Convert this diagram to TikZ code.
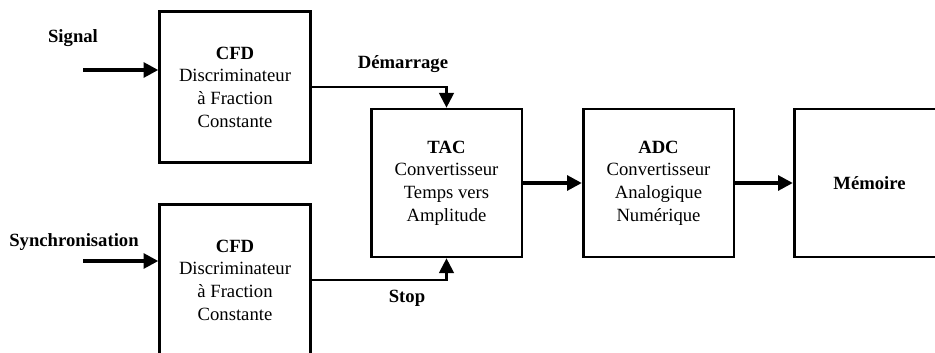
\documentclass[tikz,border=0pt]{standalone}
\usepackage{fontspec}
\setmainfont{Liberation Serif}
\usetikzlibrary{arrows.meta}

\begin{document}
\begin{tikzpicture}[x=0.75pt,y=-0.75pt,>={Triangle[length=11pt,width=11pt]},
  box/.style={draw,line width=2pt,minimum width=113pt,minimum height=113pt,inner sep=0pt,align=center,font=\fontsize{14}{17}\selectfont},
  lbl/.style={font=\fontsize{14}{17}\selectfont\bfseries},
  fat/.style={->,line width=2.6pt},
  thin/.style={->,line width=1.6pt}]

            \useasboundingbox (0,0) rectangle (935,353);
            \clip (0,0) rectangle (935,353);

            \node[box] (cfd1) at (235,87) {\textbf{CFD}\\Discriminateur\\à Fraction\\Constante};
            \node[box] (cfd2) at (235,280) {\textbf{CFD}\\Discriminateur\\à Fraction\\Constante};
            \node[box,minimum height=111pt] (tac) at (446.5,183) {\textbf{TAC}\\Convertisseur\\Temps vers\\Amplitude};
            \node[box,minimum height=111pt] (adc) at (658.5,183) {\textbf{ADC}\\Convertisseur\\Analogique\\Numérique};
            \node[box,minimum height=111pt] (mem) at (869.5,183) {\textbf{Mémoire}};

            \node[lbl] (sig) at (73,38) {Signal};
            \node[lbl] (sync) at (74,242) {Synchronisation};
            \node[lbl] (dem) at (403,64) {Démarrage};
            \node[lbl] (stop) at (407,298) {Stop};

            \coordinate (in1) at (83,70);
            \coordinate (in2) at (83,261);

            \draw[fat] (in1) -- (in1 -| cfd1.west);
            \draw[fat] (in2) -- (in2 -| cfd2.west);
            \draw[thin] (cfd1.east) -| (tac.north);
            \draw[thin] (cfd2.east) -| (tac.south);
            \draw[fat] (tac) -- (adc);
            \draw[fat] (adc) -- (mem);

            ;
        \end{tikzpicture}
\end{document}
